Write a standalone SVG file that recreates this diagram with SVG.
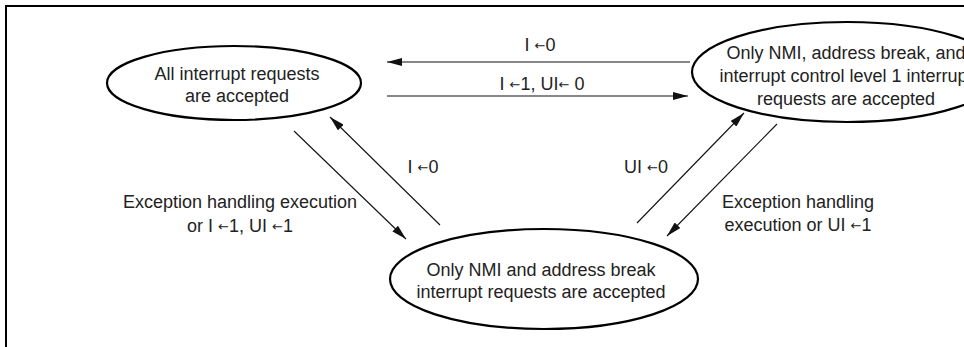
<svg xmlns="http://www.w3.org/2000/svg" width="964" height="347" viewBox="0 0 964 347">
<style>
.node ellipse{fill:#fff;stroke:#000;stroke-width:2.2}
text{font-family:"Liberation Sans",Arial,sans-serif;font-size:18px;fill:#222;text-anchor:middle}
.ar{font-family:"DejaVu Sans",sans-serif;font-size:13px}
.conn line{stroke:#111;stroke-width:1.1;marker-end:url(#ah)}
.frame{stroke:#000;stroke-width:2;fill:none}
</style>
<defs>
<marker id="ah" markerUnits="userSpaceOnUse" markerWidth="16" markerHeight="8" refX="15" refY="4" orient="auto">
<path d="M0,0 L15,4 L0,8 z" fill="#111"/>
</marker>
</defs>
<rect width="964" height="347" fill="#fff"/>
<path class="frame" d="M6,347 V6 H964"/>
<g id="node-all" class="node">
<ellipse cx="234" cy="83" rx="127" ry="37"/>
<text x="237" y="80">All interrupt requests</text>
<text x="237" y="102">are accepted</text>
</g>
<g id="node-level1" class="node">
<ellipse cx="847" cy="72" rx="155" ry="50"/>
<text x="846" y="59">Only NMI, address break, and</text>
<text x="846" y="82">interrupt control level 1 interrupt</text>
<text x="846" y="105">requests are accepted</text>
</g>
<g id="node-nmi" class="node">
<ellipse cx="544" cy="279" rx="154" ry="50"/>
<text x="541" y="276">Only NMI and address break</text>
<text x="541" y="298">interrupt requests are accepted</text>
</g>
<g class="conn" id="connectors">
<line x1="690" y1="62" x2="387" y2="62"/>
<line x1="387" y1="96" x2="688" y2="96"/>
<line x1="294" y1="131" x2="406" y2="239"/>
<line x1="440" y1="225" x2="330" y2="117"/>
<line x1="637" y1="223" x2="744" y2="113"/>
<line x1="777" y1="124" x2="667" y2="236"/>
</g>
<g id="labels">
<text x="540" y="51">I <tspan class="ar" dy="-1">←</tspan><tspan dy="1">0</tspan></text>
<text x="542" y="90">I <tspan class="ar" dy="-1">←</tspan><tspan dy="1">1, UI</tspan><tspan class="ar" dy="-1">←</tspan><tspan dy="1"> 0</tspan></text>
<text x="423" y="173">I <tspan class="ar" dy="-1">←</tspan><tspan dy="1">0</tspan></text>
<text x="240" y="208">Exception handling execution</text>
<text x="240" y="232">or I <tspan class="ar" dy="-1">←</tspan><tspan dy="1">1, UI </tspan><tspan class="ar" dy="-1">←</tspan><tspan dy="1">1</tspan></text>
<text x="646" y="173">UI <tspan class="ar" dy="-1">←</tspan><tspan dy="1">0</tspan></text>
<text x="798" y="208">Exception handling</text>
<text x="798" y="231">execution or UI <tspan class="ar" dy="-1">←</tspan><tspan dy="1">1</tspan></text>
</g>
</svg>
